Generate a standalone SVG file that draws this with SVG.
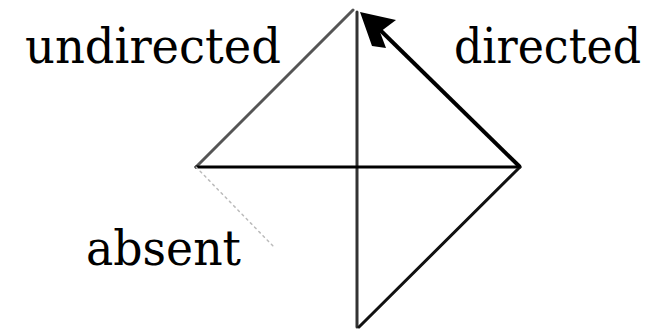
<svg xmlns="http://www.w3.org/2000/svg" width="657" height="331" viewBox="0 0 657 331">
<defs>
<style>
.lbl{font-family:"DejaVu Serif","Liberation Serif",serif;font-size:48px;fill:#000;}
.e{stroke-linecap:round;fill:none;}
</style>
</defs>
<rect width="657" height="331" fill="#fff"/>
<g id="connectors">
<line id="e-top-left" class="e" x1="353" y1="10" x2="196" y2="167" stroke="#555" stroke-width="3"/>
<line id="e-top-bottom" class="e" x1="357" y1="12" x2="357" y2="327" stroke="#333" stroke-width="3"/>
<line id="e-left-right" class="e" x1="196" y1="167" x2="520" y2="167" stroke="#000" stroke-width="3"/>
<line id="e-right-bottom" class="e" x1="520" y1="167" x2="359" y2="327" stroke="#111" stroke-width="3"/>
<line id="e-absent" class="e" x1="196" y1="167" x2="273" y2="246" stroke="#bbb" stroke-width="1.5" stroke-dasharray="2 4"/>
<line id="e-directed" x1="520" y1="167" x2="375" y2="25" stroke="#000" stroke-width="4"/>
<polygon points="360,12 396,20 380,32 386,48 372,46" fill="#000"/>
</g>
<g id="n-undirected"><text class="lbl" x="25" y="63" textLength="256" lengthAdjust="spacingAndGlyphs">undirected</text></g>
<g id="n-directed"><text class="lbl" x="454" y="63" textLength="187" lengthAdjust="spacingAndGlyphs">directed</text></g>
<g id="n-absent"><text class="lbl" x="86" y="265" textLength="155" lengthAdjust="spacingAndGlyphs">absent</text></g>
</svg>
